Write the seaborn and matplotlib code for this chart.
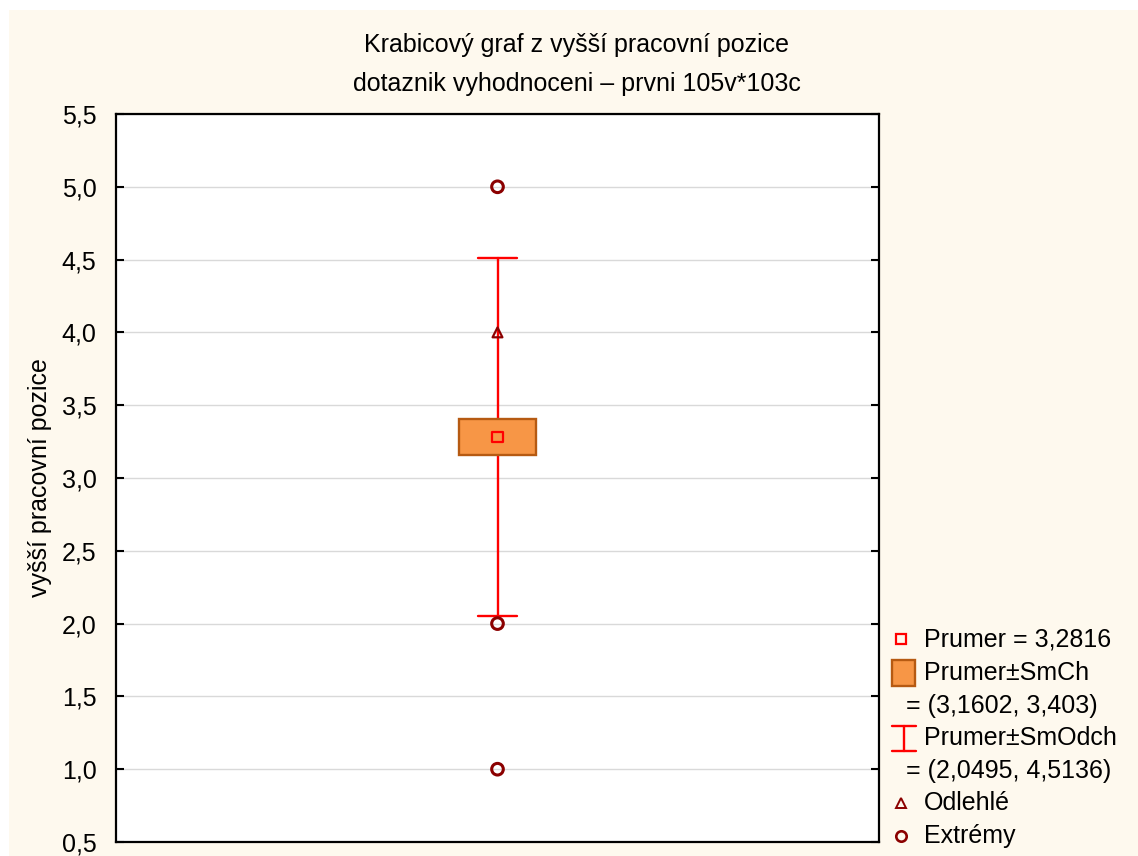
import matplotlib
matplotlib.use("Agg")
import matplotlib.pyplot as plt
from matplotlib.patches import Rectangle
from matplotlib.lines import Line2D
import pandas as pd
import seaborn as sns

# Summary statistics of the variable "vyšší pracovní pozice"
mean_value = 3.2816
se_bounds = [3.1602, 3.403]      # mean ± standard error
sd_bounds = [2.0495, 4.5136]     # mean ± standard deviation
outliers = [4.0]
extremes = [1.0, 2.0, 5.0]
y_ticks = [0.5, 1.0, 1.5, 2.0, 2.5, 3.0, 3.5, 4.0, 4.5, 5.0, 5.5]

title_lines = ["Krabicový graf z vyšší pracovní pozice",
               "dotaznik vyhodnoceni – prvni 105v*103c"]
y_label = "vyšší pracovní pozice"


def cz(v, digits=None):
    s = f"{v:.{digits}f}" if digits is not None else f"{v}"
    return s.replace(".", ",")


sns.set_theme(style="white")
plt.rcParams["font.family"] = ["Liberation Sans", "DejaVu Sans"]
plt.rcParams["text.color"] = "black"
plt.rcParams["axes.labelcolor"] = "black"

BG = "#FEF9EE"
BOX_FILL = "#F79646"
BOX_EDGE = "#B65A12"
RED = "#FF0000"
DARK_RED = "#8B0000"
FS = 18

fig = plt.figure(figsize=(11.38, 8.56), dpi=100, facecolor="white")
fig.patches.append(Rectangle((9 / 1138, 0), 1 - 9 / 1138, 1 - 10 / 856,
                             transform=fig.transFigure, facecolor=BG,
                             edgecolor="none", zorder=-10))

ax = fig.add_axes([116 / 1138, 1 - 842 / 856, (879 - 116) / 1138, (842 - 114) / 856])
ax.set_facecolor("white")

x0 = 0.0
box_w = 0.10
cap_w = 0.052

# whisker: mean ± SD
ax.plot([x0, x0], sd_bounds, color=RED, lw=1.7, zorder=2)
for yb in sd_bounds:
    ax.plot([x0 - cap_w / 2, x0 + cap_w / 2], [yb, yb], color=RED, lw=1.7, zorder=2)

# box: mean ± SE
ax.add_patch(Rectangle((x0 - box_w / 2, se_bounds[0]), box_w, se_bounds[1] - se_bounds[0],
                       facecolor=BOX_FILL, edgecolor=BOX_EDGE, lw=1.7, zorder=3))

# mean, outliers and extremes
pts = pd.DataFrame({
    "x": [x0] * (1 + len(outliers) + len(extremes)),
    "y": [mean_value] + outliers + extremes,
    "kind": ["mean"] + ["outlier"] * len(outliers) + ["extreme"] * len(extremes),
})
sns.scatterplot(data=pts[pts.kind == "mean"], x="x", y="y", ax=ax, marker="s", s=60,
                facecolor="none", edgecolor=RED, linewidth=1.6, zorder=4, legend=False)
sns.scatterplot(data=pts[pts.kind == "outlier"], x="x", y="y", ax=ax, marker="^", s=50,
                facecolor="none", edgecolor=DARK_RED, linewidth=1.6, zorder=4, legend=False)
sns.scatterplot(data=pts[pts.kind == "extreme"], x="x", y="y", ax=ax, marker="o", s=70,
                facecolor="none", edgecolor=DARK_RED, linewidth=2.2, zorder=4, legend=False)

ax.set_xlim(-0.5, 0.5)
ax.set_ylim(0.5, 5.5)
ax.set_xticks([])
ax.set_yticks(y_ticks)
ax.set_yticklabels([cz(v, 1) for v in y_ticks], fontsize=FS)
ax.tick_params(axis="y", direction="in", length=6, width=1.5, pad=14,
               left=True, right=True, colors="black", labelcolor="black")
ax.yaxis.grid(True, color="#D9D9D9", lw=1.0, zorder=0)
ax.set_axisbelow(True)
for sp in ax.spines.values():
    sp.set_visible(True)
    sp.set_color("black")
    sp.set_linewidth(1.6)
ax.set_xlabel("")
ax.set_ylabel(y_label, fontsize=FS, labelpad=7, color="black")

fig.text(576 / 1138, 1 - 45 / 856, title_lines[0], ha="center", va="center", fontsize=FS)
fig.text(577 / 1138, 1 - 84 / 856, title_lines[1], ha="center", va="center", fontsize=FS)

# legend drawn beside the plot
tf = fig.transFigure
def fx(px):
    return px / 1138
def fy(py):
    return 1 - py / 856

mx = 901
tx = 924
fig.add_artist(Line2D([fx(mx)], [fy(639)], transform=tf, marker="s", ms=7.5,
                      mfc="none", mec=RED, mew=1.6, ls="none"))
fig.text(fx(tx), fy(639), f"Prumer = {cz(mean_value)}", va="center", fontsize=FS)

fig.add_artist(Rectangle((fx(892), fy(686)), fx(23), 26 / 856, transform=tf,
                         facecolor=BOX_FILL, edgecolor=BOX_EDGE, lw=1.7))
fig.text(fx(tx), fy(673), "Prumer±SmCh", va="center", fontsize=FS)
fig.text(fx(906), fy(706), f"= ({cz(se_bounds[0])}, {cz(se_bounds[1])})", va="center", fontsize=FS)

fig.add_artist(Line2D([fx(904), fx(904)], [fy(726), fy(751)], transform=tf, color=RED, lw=1.7))
fig.add_artist(Line2D([fx(892), fx(916)], [fy(726), fy(726)], transform=tf, color=RED, lw=1.7))
fig.add_artist(Line2D([fx(892), fx(916)], [fy(751), fy(751)], transform=tf, color=RED, lw=1.7))
fig.text(fx(tx), fy(738), "Prumer±SmOdch", va="center", fontsize=FS)
fig.text(fx(906), fy(771), f"= ({cz(sd_bounds[0])}, {cz(sd_bounds[1])})", va="center", fontsize=FS)

fig.add_artist(Line2D([fx(mx)], [fy(803)], transform=tf, marker="^", ms=6.5,
                      mfc="none", mec=DARK_RED, mew=1.4, ls="none"))
fig.text(fx(tx), fy(803), "Odlehlé", va="center", fontsize=FS)

fig.add_artist(Line2D([fx(mx)], [fy(836)], transform=tf, marker="o", ms=7.5,
                      mfc="none", mec=DARK_RED, mew=1.9, ls="none"))
fig.text(fx(tx), fy(836), "Extrémy", va="center", fontsize=FS)

fig.savefig("out.png", dpi=100, facecolor=fig.get_facecolor())
